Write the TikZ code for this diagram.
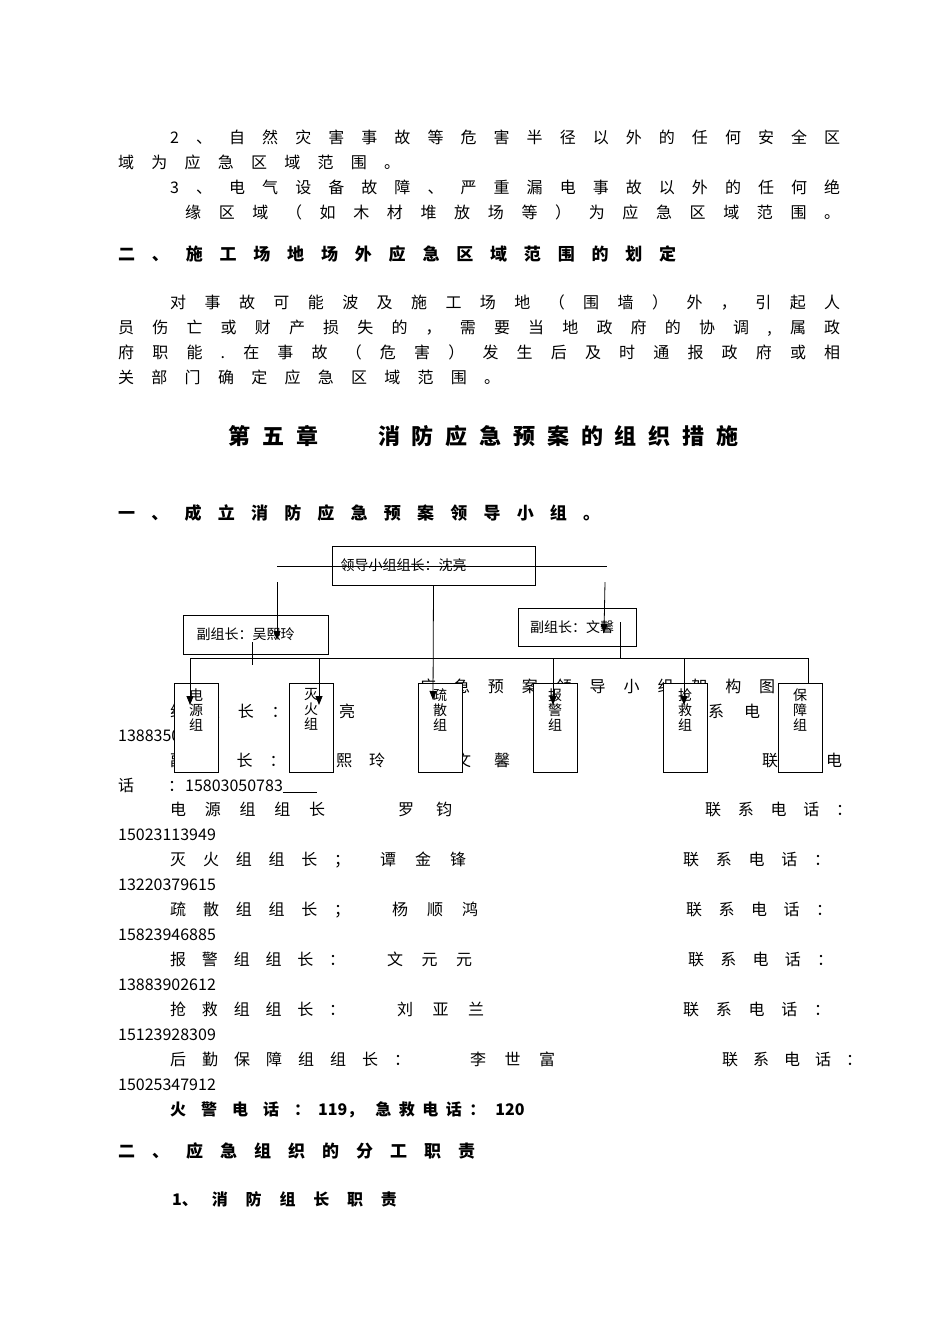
\documentclass[tikz,border=0pt]{standalone}
\usepackage{fontspec}
\setmainfont{Noto Sans CJK SC}
\usetikzlibrary{arrows.meta}
\def\sprx#1{#1\spry}
\def\spry#1{\ifx\relax#1\else\hfil#1\expandafter\spry\fi}
\newcommand\spr[2]{\makebox[#1pt][s]{\sprx#2\relax}}
\newcommand\tl[5]{\node[txt] (#1) at (#2,#3) {\spr{#4}{#5}};}
\tikzset{
 txt/.style={anchor=base west,inner sep=0,font=\fontsize{16}{16}\selectfont},
 box/.style={draw,line width=0.9pt,fill=white,inner sep=0,font=\fontsize{14}{14}\selectfont},
 con/.style={line width=0.8pt},
 arr/.style={line width=0.8pt,-{Triangle[length=9pt,width=7pt]}}
}
\begin{document}
\begin{tikzpicture}[x=1pt,y=-1pt]
\useasboundingbox (0,0) rectangle (950,1344);
% text
\tl{a1}{170}{143}{670}{2、自然灾害事故等危害半径以外的任何安全区}
\tl{a2}{118}{168}{282}{域为应急区域范围。}
\tl{a3}{170}{193}{670}{3、电气设备故障、严重漏电事故以外的任何绝}
\tl{a4}{185}{218}{655}{缘区域（如木材堆放场等）为应急区域范围。}
\node[txt,font=\fontsize{17}{17}\selectfont\bfseries] (a5) at (118,260) {\spr{558}{二、施工场地场外应急区域范围的划定}};
\tl{a6}{170}{308}{670}{对事故可能波及施工场地（围墙）外，引起人}
\tl{a7}{118}{333}{722}{员伤亡或财产损失的，需要当地政府的协调,属政}
\tl{a8}{118}{358}{722}{府职能.在事故（危害）发生后及时通报政府或相}
\tl{a9}{118}{383}{382}{关部门确定应急区域范围。}
\node[txt,font=\fontsize{22}{22}\selectfont\bfseries] (h1) at (228,444) {\spr{90}{第五章}};
\node[txt,font=\fontsize{22}{22}\selectfont\bfseries] (h2) at (378,444) {\spr{360}{消防应急预案的组织措施}};
\node[txt,font=\fontsize{17}{17}\selectfont\bfseries] (a10) at (118,519) {\spr{482}{一、成立消防应急预案领导小组。}};
\tl{b1}{420}{692}{355}{应急预案领导小组架构图}
\tl{b2}{170}{717}{185}{组组长：沈亮}
\tl{b3}{672}{717}{160}{联系电话：}
\node[txt] (b4) at (118,741) {13883500106};
\tl{b5}{170}{766}{215}{副组长：吴熙玲}
\tl{b6}{455}{766}{55}{文馨}
\tl{b7}{762}{766}{80}{联系电}
\tl{b8}{118}{791}{66}{话：}
\node[txt] (b9) at (185,791) {15803050783\rule[-2pt]{34pt}{0.8pt}};
\tl{c1}{170}{815}{155}{电源组组长}\tl{c2}{398}{815}{54}{罗钧}\tl{c3}{705}{815}{147}{联系电话：}
\node[txt] (c4) at (118,840) {15023113949};
\tl{d1}{170}{865}{180}{灭火组组长；}\tl{d2}{380}{865}{86}{谭金锋}\tl{d3}{683}{865}{147}{联系电话：}
\node[txt] (d4) at (118,890) {13220379615};
\tl{e1}{170}{915}{180}{疏散组组长；}\tl{e2}{392}{915}{86}{杨顺鸿}\tl{e3}{686}{915}{146}{联系电话：}
\node[txt] (e4) at (118,940) {15823946885};
\tl{f1}{170}{965}{175}{报警组组长：}\tl{f2}{387}{965}{85}{文元元}\tl{f3}{688}{965}{145}{联系电话：}
\node[txt] (f4) at (118,990) {13883902612};
\tl{g1t}{170}{1015}{175}{抢救组组长：}\tl{g2t}{397}{1015}{87}{刘亚兰}\tl{g3t}{683}{1015}{147}{联系电话：}
\node[txt] (g4t) at (118,1040) {15123928309};
\tl{k1}{170}{1065}{240}{后勤保障组组长：}\tl{k2}{470}{1065}{85}{李世富}\tl{k3}{722}{1065}{140}{联系电话：}
\node[txt] (k4) at (118,1090) {15025347912};
\node[txt,font=\fontsize{16}{16}\selectfont\bfseries] (m2) at (170,1115) {\spr{140}{火警电话：}\hspace{8pt}119，\hspace{12pt}\spr{110}{急救电话：}\hspace{10pt}120};
\node[txt,font=\fontsize{17}{17}\selectfont\bfseries] (n1) at (118,1157) {\spr{357}{二、应急组织的分工职责}};
\node[txt,font=\fontsize{16}{16}\selectfont\bfseries] (n2) at (172,1205) {1、\hspace{14pt}\spr{185}{消防组长职责}};
% chart boxes
\node[box,minimum width=203pt,minimum height=39pt] (top) at (433.5,565.5) {\hspace{-60pt}领导小组组长：沈亮};
\node[box,minimum width=145pt,minimum height=39pt] (vl) at (255.5,634.5) {\hspace{-20pt}副组长：吴熙玲};
\node[box,minimum width=118pt,minimum height=38pt] (vr) at (577,627) {\hspace{-10pt}副组长：文馨};
\foreach \n/\x in {g1/196,g2/311,g3/440,g4/555,g5/685,g6/800}
  \node[box,minimum width=44pt,minimum height=89pt] (\n) at (\x,727.5) {};
\foreach \n/\a/\b/\c in {g1/电/源/组,g2/灭/火/组,g3/疏/散/组,g4/报/警/组,g5/抢/救/组,g6/保/障/组}
  \node[inner sep=0,font=\fontsize{14}{15}\selectfont,align=center,anchor=north] (\n t) at ([yshift=-6pt]\n.north) {\a\\\b\\\c};
% connectors
\coordinate (hl) at (277,566); \coordinate (hr) at (607,566);
\draw[con] (hl) -- (hr);
\coordinate (al) at (277,582); \coordinate (ar) at (605,582);
\draw[arr] (al) -- (277,640);
\draw[arr] (ar) -- (604,633);
\draw[arr] (top.south) -- (433,700);
\coordinate (bl) at (190,658); \coordinate (br) at (808,658);
\draw[con] (bl) -- (br);
\draw[con] (252,642) -- (252,665);
\draw[con] (620,622) -- (620,658);
\draw[arr] (bl) -- (190,705);
\draw[arr] (319,658) -- (319,705);
\draw[arr] (553,658) -- (553,705);
\draw[arr] (684,658) -- (684,705);
\draw[con] (br) -- (g6.north -| br);
\end{tikzpicture}
\end{document}
